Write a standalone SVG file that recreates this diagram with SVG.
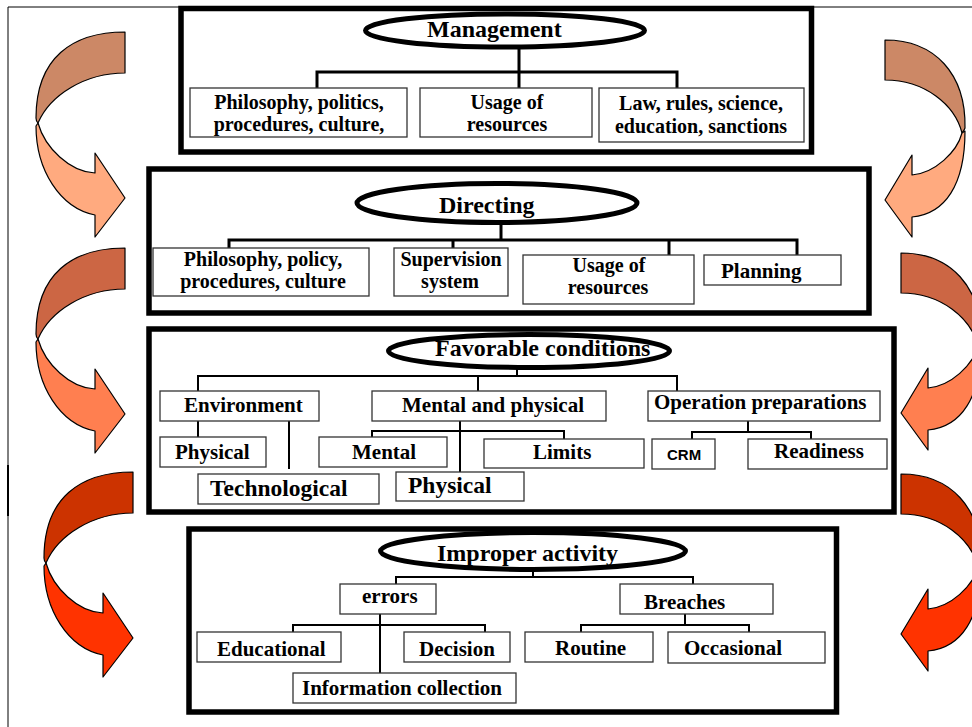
<svg xmlns="http://www.w3.org/2000/svg" width="972" height="727" viewBox="0 0 972 727">
<style>
.frame{fill:none;stroke:#000;stroke-width:1}
.big{fill:#fff;stroke:#000;stroke-width:5.5}
.ell{fill:#fff;stroke:#000;stroke-width:5}
.box{fill:#fff;stroke:#333;stroke-width:1.3}
.arr{stroke:#000;stroke-width:1.2;stroke-linejoin:round}
.t{font-family:"Liberation Serif","Times New Roman",serif;font-weight:bold;font-size:21px;fill:#000}
.two{font-size:20px;text-anchor:middle}
.h{font-size:24px}
.b{font-size:23.5px}
.s{font-family:"Liberation Sans",Arial,sans-serif;font-weight:bold;font-size:15px;fill:#000}
.c3{fill:none;stroke:#000;stroke-width:3}
.c2{fill:none;stroke:#000;stroke-width:2}
</style>
<defs>
<g id="larrow">
<path class="arr" d="M125,32 C72,32 36,58 36,118 Q36,121 38,123 C50,95 85,73 125,73 Z" fill="var(--dk)"/>
<path class="arr" d="M38,123 C45,148 70,172 95,173 L95,153 L125,198 L95,237 L95,215 C60,208 36,170 36,126 Z" fill="var(--lt)"/>
</g>
<g id="rarrow">
<path class="arr" d="M885,40 C935,40 966,74 965,128 Q964,131 962,133 C955,105 925,80 885,80 Z" fill="var(--dk)"/>
<path class="arr" d="M962,133 C957,152 935,173 912,175 L912,155 L885,200 L912,237 L912,217 C945,214 965,185 965,131 Z" fill="var(--lt)"/>
</g>
</defs>
<g id="frame">
<path class="frame" d="M8,727 V7 H972"/>
<path d="M8,465 V516" stroke="#000" stroke-width="2"/>
</g>
<g id="arrows">
<use href="#larrow" style="--dk:#CC8866;--lt:#FFAA7F"/>
<use href="#larrow" transform="translate(0,216)" style="--dk:#CC6644;--lt:#FF7F50"/>
<use href="#larrow" transform="translate(8,440)" style="--dk:#CC3300;--lt:#FF3300"/>
<use href="#rarrow" style="--dk:#CC8866;--lt:#FFAA7F"/>
<use href="#rarrow" transform="translate(16,213)" style="--dk:#CC6644;--lt:#FF7F50"/>
<use href="#rarrow" transform="translate(16,434)" style="--dk:#CC3300;--lt:#FF3300"/>
</g>
<g id="panel-management"><rect class="big" x="181" y="8.5" width="630.5" height="143.5"/></g>
<g id="panel-directing"><rect class="big" x="149" y="169" width="720" height="144"/></g>
<g id="panel-favorable"><rect class="big" x="149" y="329" width="745" height="183"/></g>
<g id="panel-improper"><rect class="big" x="189" y="529" width="647.5" height="183"/></g>
<g id="connectors">
<path class="c3" d="M519,47 V72 M317,88 V72 H677 V88 M519,72 V88"/>
<path class="c3" d="M501,222 V240 M229,248 V240 H797 V256 M453,240 V248 M669,240 V256"/>
<path class="c2" d="M517,367 V376 M198,391 V376 H677 V391 M478,376 V391 M198,421 V437 M289,421 V469 M372,437 V431 H564 V439 M460,421 V472 M748,421 V432 M692,439 V432 H811 V439"/>
<path class="c2" d="M533,569 V577 M396,584 V577 H693 V584 M380,614 V673 M293,632 V625 H485 V632 M685,614 V625 M581,632 V625 H749 V632"/>
</g>
<g id="management"><ellipse class="ell" cx="505" cy="30.5" rx="139.5" ry="16.5"/><text class="t h" x="427" y="37">Management</text></g>
<g id="m-philosophy"><rect class="box" x="190" y="88" width="217" height="49"/><text class="t two" x="299" y="109">Philosophy, politics,</text><text class="t two" x="299" y="131">procedures, culture,</text></g>
<g id="m-usage"><rect class="box" x="420" y="88" width="172" height="49"/><text class="t two" x="507" y="109">Usage of</text><text class="t two" x="507" y="131">resources</text></g>
<g id="m-law"><rect class="box" x="599" y="88" width="205" height="54"/><text class="t two" x="701" y="110">Law, rules, science,</text><text class="t two" x="701" y="133">education, sanctions</text></g>
<g id="directing"><ellipse class="ell" cx="497" cy="203" rx="140" ry="19.5"/><text class="t h" x="439" y="213">Directing</text></g>
<g id="d-philosophy"><rect class="box" x="153" y="248" width="216" height="48"/><text class="t two" x="263" y="266">Philosophy, policy,</text><text class="t two" x="263" y="288">procedures, culture</text></g>
<g id="d-supervision"><rect class="box" x="394" y="248" width="114" height="48"/><text class="t two" x="451" y="266">Supervision</text><text class="t two" x="450" y="288">system</text></g>
<g id="d-usage"><rect class="box" x="523" y="255" width="171" height="49"/><text class="t two" x="609" y="272">Usage of</text><text class="t two" x="608" y="294">resources</text></g>
<g id="d-planning"><rect class="box" x="704" y="255" width="137" height="30"/><text class="t" x="721" y="278">Planning</text></g>
<g id="favorable"><ellipse class="ell" cx="529" cy="351" rx="140.5" ry="16.5"/><text class="t h" x="435" y="356">Favorable conditions</text></g>
<g id="f-environment"><rect class="box" x="160" y="391" width="159" height="30"/><text class="t" x="184" y="412">Environment</text></g>
<g id="f-mental-physical"><rect class="box" x="372" y="391" width="234" height="30"/><text class="t" x="402" y="412">Mental and physical</text></g>
<g id="f-operation"><rect class="box" x="648" y="391" width="232" height="30"/><text class="t" x="654" y="409">Operation preparations</text></g>
<g id="f-physical"><rect class="box" x="160" y="437" width="106" height="30"/><text class="t" x="175" y="459">Physical</text></g>
<g id="f-technological"><rect class="box" x="198" y="474" width="181" height="30"/><text class="t b" x="210" y="496">Technological</text></g>
<g id="f-mental"><rect class="box" x="319" y="437" width="128" height="30"/><text class="t" x="352" y="459">Mental</text></g>
<g id="f-limits"><rect class="box" x="484" y="439" width="160" height="29"/><text class="t" x="533" y="459">Limits</text></g>
<g id="f-physical2"><rect class="box" x="396" y="472" width="128" height="29"/><text class="t b" x="408" y="493">Physical</text></g>
<g id="f-crm"><rect class="box" x="652" y="439" width="63" height="30"/><text class="s" x="667" y="460">CRM</text></g>
<g id="f-readiness"><rect class="box" x="748" y="439" width="139" height="30"/><text class="t" x="774" y="458">Readiness</text></g>
<g id="improper"><ellipse class="ell" cx="533" cy="551" rx="152.5" ry="18.5"/><text class="t h" x="437" y="561">Improper activity</text></g>
<g id="i-errors"><rect class="box" x="340" y="584" width="96" height="30"/><text class="t" x="362" y="603">errors</text></g>
<g id="i-breaches"><rect class="box" x="620" y="584" width="153" height="30"/><text class="t" x="644" y="609">Breaches</text></g>
<g id="i-educational"><rect class="box" x="197" y="632" width="144" height="30"/><text class="t" x="217" y="656">Educational</text></g>
<g id="i-decision"><rect class="box" x="404" y="632" width="106" height="30"/><text class="t" x="419" y="656">Decision</text></g>
<g id="i-information"><rect class="box" x="293" y="673" width="223" height="30"/><text class="t" x="302" y="695">Information collection</text></g>
<g id="i-routine"><rect class="box" x="525" y="632" width="128" height="30"/><text class="t" x="555" y="655">Routine</text></g>
<g id="i-occasional"><rect class="box" x="668" y="632" width="157" height="31"/><text class="t" x="684" y="655">Occasional</text></g>
</svg>
